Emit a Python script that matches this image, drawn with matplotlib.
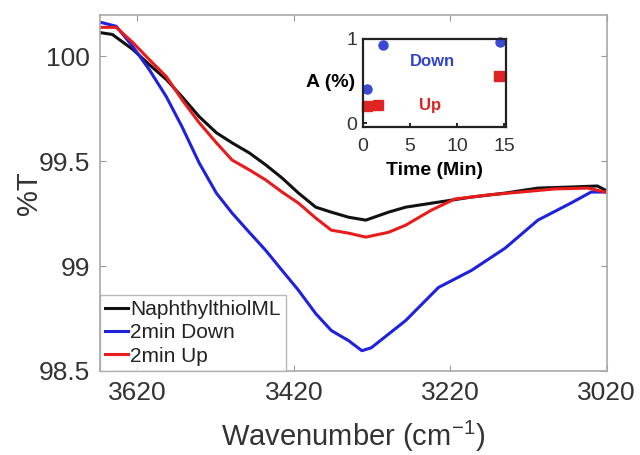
import matplotlib
matplotlib.use('Agg')
import matplotlib.pyplot as plt

plt.rcParams['font.family'] = ['Liberation Sans', 'DejaVu Sans']
plt.rcParams['mathtext.default'] = 'regular'
plt.rcParams['axes.unicode_minus'] = False

# spectra
wn_black = [3668, 3652, 3626, 3605, 3583, 3563, 3541, 3519, 3499, 3477, 3456, 3435,
            3414, 3392, 3372, 3350, 3328, 3299, 3277, 3235, 3193, 3150, 3108, 3066, 3032, 3022]
t_black = [100.114, 100.105, 100.034, 99.962, 99.890, 99.808, 99.713, 99.636, 99.588, 99.540,
           99.483, 99.420, 99.348, 99.281, 99.257, 99.233, 99.219, 99.257, 99.281, 99.305,
           99.329, 99.348, 99.372, 99.377, 99.382, 99.363]

wn_red = [3668, 3647, 3626, 3605, 3583, 3563, 3541, 3519, 3499, 3477, 3456, 3435,
          3414, 3392, 3372, 3350, 3328, 3299, 3277, 3244, 3214, 3172, 3130, 3086, 3044, 3022]
t_red = [100.139, 100.139, 100.067, 99.986, 99.904, 99.794, 99.684, 99.588, 99.506, 99.459,
         99.411, 99.353, 99.300, 99.229, 99.171, 99.157, 99.138, 99.161, 99.195, 99.267,
         99.320, 99.339, 99.353, 99.368, 99.372, 99.353]

wn_blue = [3668, 3647, 3626, 3605, 3583, 3563, 3541, 3519, 3499, 3477, 3456, 3435,
           3414, 3392, 3372, 3350, 3333, 3321, 3277, 3235, 3193, 3150, 3108, 3066, 3040, 3022]
t_blue = [100.164, 100.144, 100.048, 99.938, 99.808, 99.665, 99.492, 99.348, 99.253, 99.161,
          99.075, 98.979, 98.884, 98.773, 98.692, 98.644, 98.596, 98.610, 98.740, 98.898,
          98.979, 99.085, 99.219, 99.300, 99.353, 99.353]

labels = ['NaphthylthiolML', '2min Down', '2min Up']

# inset data
time_down = [0.4, 2.1, 14.6]
a_down = [0.40, 0.93, 0.96]
time_up = [0.4, 1.6, 14.5]
a_up = [0.21, 0.22, 0.56]

c_black = '#111111'
c_blue = '#1f22dd'
c_red = '#e81c1c'

fig = plt.figure(figsize=(6.4, 4.55), dpi=100)
ax = fig.add_axes([0.156, 0.185, 0.792, 0.783])

ax.plot(wn_black, t_black, color=c_black, lw=2.2, label=labels[0])
ax.plot(wn_blue, t_blue, color=c_blue, lw=2.2, label=labels[1])
ax.plot(wn_red, t_red, color=c_red, lw=2.2, label=labels[2])

ax.set_xlim(3668, 3020)
ax.set_ylim(98.5, 100.2)
ax.set_xticks([3620, 3420, 3220, 3020])
ax.set_yticks([98.5, 99, 99.5, 100])
ax.set_yticklabels(['98.5', '99', '99.5', '100'])
ax.tick_params(direction='in', top=True, right=True, length=4, width=0.8,
               color='#999999', labelsize=19, labelcolor='#333333', pad=7)
for s in ax.spines.values():
    s.set_color('#a8a8a8')
    s.set_linewidth(1.2)
ax.set_xlabel('Wavenumber (cm$^{-1}$)', fontsize=21, color='#333333', labelpad=10)
ax.set_ylabel('%T', fontsize=21, color='#333333', labelpad=-3)

leg = ax.legend(loc='lower left', borderaxespad=0, fontsize=15, handlelength=1.1,
                handletextpad=0.1, labelspacing=0.2, borderpad=0.25, fancybox=False,
                frameon=True)
leg.get_frame().set_edgecolor('#a8a8a8')
leg.get_frame().set_linewidth(1.0)
for txt in leg.get_texts():
    txt.set_color('#222222')

# inset
ins = fig.add_axes([0.567, 0.7215, 0.2234, 0.1934])
ins.plot(time_down, a_down, 'o', color='#3a48d4', ms=6.5, clip_on=False)
ins.plot(time_up, a_up, 's', color='#e02424', ms=7, clip_on=False)
ins.text(7.4, 0.73, 'Down', color='#3344cc', fontsize=12, fontweight='bold', ha='center', va='center')
ins.text(7.1, 0.21, 'Up', color='#dd2222', fontsize=12, fontweight='bold', ha='center', va='center')
ins.set_xlim(0, 15.2)
ins.set_ylim(-0.04, 1.0)
ins.set_xticks([0, 5, 10, 15])
ins.set_yticks([0, 1])
ins.tick_params(direction='in', length=3, width=1.2, labelsize=14, labelcolor='#333333', pad=4)
ins.tick_params(axis='x', pad=8)
for s in ins.spines.values():
    s.set_color('#222222')
    s.set_linewidth(1.6)
ins.set_xlabel('Time (Min)', fontsize=14, fontweight='bold', labelpad=5)
ins.set_ylabel('A (%)', fontsize=14, fontweight='bold', rotation=0, ha='right', va='center', labelpad=-6)

fig.savefig('out.png', dpi=100)
